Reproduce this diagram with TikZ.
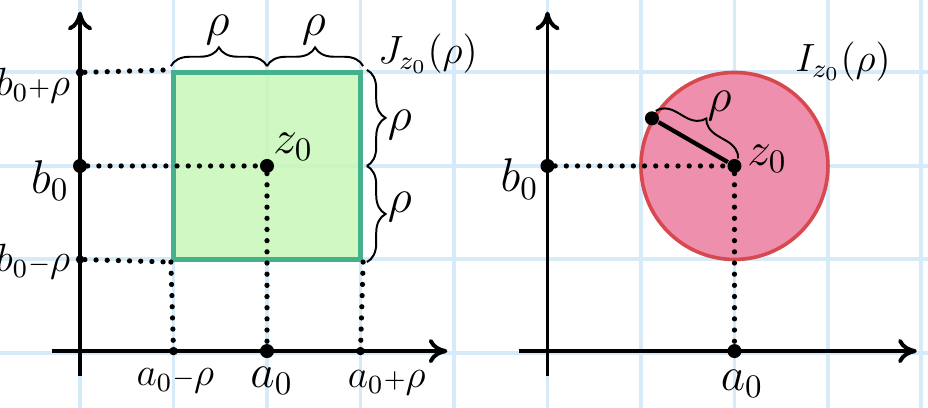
\documentclass[tikz,border=0pt]{standalone}
\usepackage{amssymb,amsmath}
\usepackage{xcolor}
\usepackage{tikz}
\usetikzlibrary{arrows.meta, positioning, calc, decorations.pathreplacing}

\definecolor{gridblue}{HTML}{D6EAF8}
\definecolor{sqfill}{HTML}{C8F7B8}
\definecolor{sqedge}{HTML}{45B08C}
\definecolor{diskfill}{HTML}{EF8FAE}
\definecolor{diskedge}{HTML}{D8484F}

\begin{document}
\begin{tikzpicture}[
        % Define styles for the nodes
        dot_node/.style={circle, fill=black, inner sep=0pt, minimum size=1.5mm},
        tick_node/.style={circle, fill=black, inner sep=0pt, minimum size=0.9mm},
        label_node/.style={font=\Large, inner sep=1pt},
        long_label/.style={font=\large, inner sep=1pt},
        square_node/.style={rectangle, draw=sqedge, fill=sqfill, line width=1.6pt, minimum size=2cm},
        disk_node/.style={circle, draw=diskedge, fill=diskfill, line width=1.1pt, minimum size=2cm, inner sep=0pt},
        % Styles for lines
        axis/.style={-{To[length=2mm, width=2.6mm]}, line width=1.2pt},
        guide/.style={line width=1.6pt, line cap=round, dash pattern=on 0pt off 3.4pt},
        brace_line/.style={decorate, decoration={brace, amplitude=2mm}, line width=0.6pt},
        radius/.style={line width=1.3pt}
    ]

    % =========================================================================
    % PAPER - FRAME & GRID
    % =========================================================================
    \useasboundingbox (-0.856,-0.588) rectangle (9.07,3.775);
    \fill[white] (-0.856,-0.588) rectangle (9.07,3.775);
    \draw[gridblue, line width=1.2pt] (-0.856,-0.588) grid (9.07,3.775);

    % =========================================================================
    % LEFT - SQUARE J
    % =========================================================================
    \node (sq) [square_node, fill opacity=0.85] at (2,2) {};

    \coordinate (yl_bot) at (0,-0.25);
    \coordinate (yl_top) at (0,3.65);
    \coordinate (xl_left) at (-0.3,0.02);
    \coordinate (xl_right) at (3.93,0.02);
    \draw [axis] (yl_bot) -- (yl_top);
    \draw [axis] (xl_left) -- (xl_right);

    \node (b0p) [tick_node] at (0,3) {};
    \node (b0) [dot_node] at (0,2) {};
    \node (b0m) [tick_node] at (0,1) {};
    \node (a0m) [tick_node] at (1,0.02) {};
    \node (a0) [dot_node] at (2,0.02) {};
    \node (a0p) [tick_node] at (3,0.02) {};
    \node (z0) [dot_node] at (2,2) {};

    \draw [guide] (b0p) -- (sq.north west);
    \draw [guide] (b0) -- (z0);
    \draw [guide] (b0m) -- (sq.south west);
    \draw [guide] (sq.south west) -- (a0m);
    \draw [guide] (z0) -- (a0);
    \draw [guide] (sq.south east) -- (a0p);

    \draw [brace_line] ($(sq.north west)+(0,0.04)$) -- ($(sq.north)+(0,0.04)$);
    \draw [brace_line] ($(sq.north)+(0,0.04)$) -- ($(sq.north east)+(0,0.04)$);
    \draw [brace_line] ($(sq.north east)+(0.04,0)$) -- ($(sq.east)+(0.04,0)$);
    \draw [brace_line] ($(sq.east)+(0.04,0)$) -- ($(sq.south east)+(0.04,0)$);

    \node (rho_t1) [label_node] at (1.47,3.45) {$\rho$};
    \node (rho_t2) [label_node] at (2.5,3.45) {$\rho$};
    \node (rho_r1) [label_node] at (3.42,2.44) {$\rho$};
    \node (rho_r2) [label_node] at (3.42,1.56) {$\rho$};
    \node (lbl_j) [long_label] at (3.72,3.2) {$J_{z_0}(\rho)$};
    \node (lbl_z0) [label_node] at (2.28,2.2) {$z_0$};

    \node (lbl_b0p) [long_label] at (-0.5,2.86) {$b_0{\scriptstyle+}\rho$};
    \node (lbl_b0) [label_node] at (-0.32,1.84) {$b_0$};
    \node (lbl_b0m) [long_label] at (-0.5,0.98) {$b_0{\scriptstyle-}\rho$};
    \node (lbl_a0m) [long_label] at (1.02,-0.3) {$a_0{\scriptstyle-}\rho$};
    \node (lbl_a0) [label_node] at (2.05,-0.3) {$a_0$};
    \node (lbl_a0p) [long_label] at (3.28,-0.32) {$a_0{\scriptstyle+}\rho$};

    % =========================================================================
    % RIGHT - DISK I
    % =========================================================================
    \node (disk) [disk_node] at (7,2) {};

    \coordinate (yr_bot) at (5,-0.25);
    \coordinate (yr_top) at (5,3.65);
    \coordinate (xr_left) at (4.7,0.02);
    \coordinate (xr_right) at (8.95,0.02);
    \draw [axis] (yr_bot) -- (yr_top);
    \draw [axis] (xr_left) -- (xr_right);

    \node (b0r) [dot_node] at (5,2) {};
    \node (a0r) [dot_node] at (7,0.02) {};
    \node (z0r) [dot_node] at (7,2) {};
    \node (rtip) [dot_node] at (disk.150) {};

    \draw [guide] (b0r) -- (z0r);
    \draw [guide] (z0r) -- (a0r);
    \draw [radius] (rtip) -- (z0r);
    \draw [brace_line] ($(rtip)+(0.04,0.08)$) -- ($(z0r)+(0.04,0.08)$);

    \node (rho_d) [label_node] at (6.84,2.64) {$\rho$};
    \node (lbl_i) [long_label] at (8.16,3.12) {$I_{z_0}(\rho)$};
    \node (lbl_z0r) [label_node] at (7.35,2.08) {$z_0$};
    \node (lbl_b0r) [label_node] at (4.7,1.86) {$b_0$};
    \node (lbl_a0r) [label_node] at (7.08,-0.33) {$a_0$};

\end{tikzpicture}
\end{document}
